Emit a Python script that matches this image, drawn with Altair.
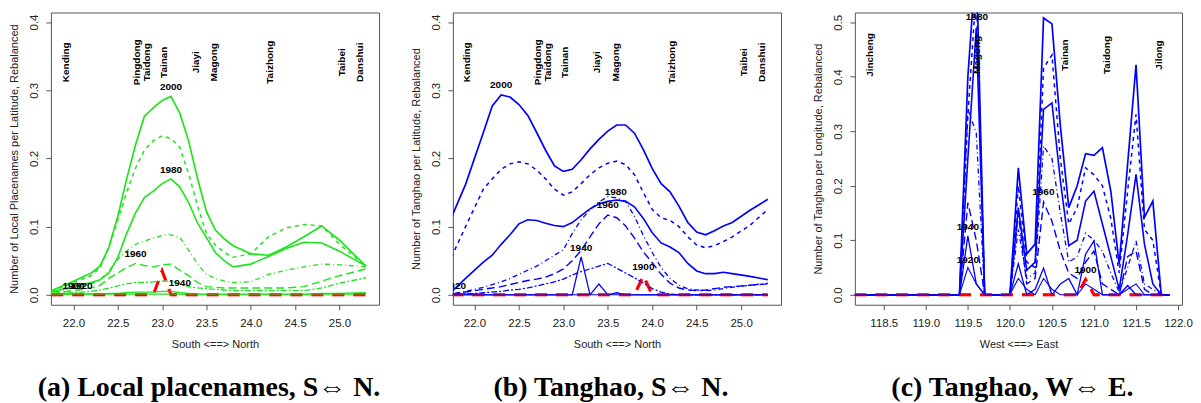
import altair as alt
import pandas as pd

GREEN = "#1ee41e"
BLUE = "#0000ff"
RED = "#ff0000"

# ---------------- Panel (a): local placenames, by latitude ----------------
LAT_A = [21.75, 22.0, 22.2, 22.3, 22.4, 22.5, 22.6, 22.7, 22.8, 22.9, 23.0, 23.1, 23.2,
         23.3, 23.4, 23.5, 23.6, 23.7, 23.8, 24.0, 24.2, 24.4, 24.6, 24.8, 25.0, 25.3]
A_2000 = [0.006, 0.02, 0.032, 0.042, 0.07, 0.115, 0.17, 0.22, 0.262, 0.274, 0.285, 0.291, 0.266,
          0.225, 0.17, 0.122, 0.095, 0.082, 0.072, 0.060, 0.058, 0.070, 0.085, 0.101, 0.080, 0.042]
A_1990 = [0.005, 0.018, 0.028, 0.040, 0.07, 0.11, 0.15, 0.186, 0.212, 0.226, 0.233, 0.229, 0.216,
          0.177, 0.13, 0.09, 0.073, 0.062, 0.055, 0.060, 0.085, 0.098, 0.103, 0.101, 0.074, 0.042]
A_1980 = [0.004, 0.012, 0.018, 0.022, 0.032, 0.055, 0.09, 0.12, 0.1425, 0.152, 0.163, 0.170, 0.158,
          0.135, 0.105, 0.084, 0.062, 0.050, 0.041, 0.045, 0.056, 0.068, 0.077, 0.076, 0.064, 0.042]
A_1970 = [0.003, 0.010, 0.016, 0.022, 0.035, 0.052, 0.064, 0.074, 0.079, 0.083, 0.087, 0.088, 0.084,
          0.065, 0.045, 0.030, 0.024, 0.020, 0.018, 0.019, 0.030, 0.036, 0.041, 0.045, 0.044, 0.041]
A_1960 = [0.002, 0.006, 0.010, 0.014, 0.024, 0.032, 0.040, 0.046, 0.043, 0.041, 0.044, 0.045, 0.036,
          0.028, 0.018, 0.012, 0.011, 0.010, 0.010, 0.010, 0.010, 0.010, 0.012, 0.020, 0.028, 0.038]
A_1950 = [0.001, 0.003, 0.005, 0.007, 0.010, 0.013, 0.016, 0.018, 0.018, 0.019, 0.020, 0.020, 0.016,
          0.012, 0.010, 0.009, 0.008, 0.007, 0.006, 0.006, 0.006, 0.006, 0.006, 0.010, 0.017, 0.025]
A_1940 = [0.000, 0.001, 0.001, 0.001, 0.002, 0.002, 0.003, 0.004, 0.004, 0.004, 0.005, 0.005, 0.003,
          0.002, 0.001, 0.001, 0.001, 0.001, 0.001, 0.001, 0.001, 0.001, 0.001, 0.002, 0.002, 0.003]
A_1920 = [0.001, 0.002, 0.001, 0.001, 0.001, 0.001, 0.001, 0.001, 0.001, 0.001, 0.001, 0.001, 0.001,
          0.000, 0.000, 0.000, 0.000, 0.000, 0.000, 0.000, 0.000, 0.000, 0.000, 0.000, 0.000, 0.000]
A_1900 = [0, 0, 0, 0, 0, 0, 0, 0, 0, 0, 0.035, 0, 0,
          0, 0, 0, 0, 0, 0, 0, 0, 0, 0, 0, 0, 0]

CITY_AB = ["Kending", "Pingdong", "Taidong", "Tainan", "Jiayi", "Magong", "Taizhong", "Taibei", "Danshui"]
CITY_AB_LAT = [21.92, 22.72, 22.83, 23.02, 23.38, 23.59, 24.22, 25.03, 25.235]
CITY_AB_Y = 0.341

YEAR_A = ["2000", "1980", "1960", "1940", "1900", "1920"]
YEAR_A_X = [23.1, 23.1, 22.7, 23.2, 22.0, 22.09]
YEAR_A_Y = [0.3045, 0.183, 0.0596, 0.0166, 0.013, 0.013]

# ---------------- Panel (b): tanghao, by latitude ----------------
LAT_B = [21.74, 21.9, 22.1, 22.2, 22.3, 22.4, 22.5, 22.6, 22.7, 22.8, 22.9, 23.0, 23.1, 23.2, 23.3,
         23.4, 23.5, 23.6, 23.7, 23.8, 23.9, 24.0, 24.1, 24.2, 24.3, 24.4, 24.5, 24.6, 24.7, 24.8,
         24.9, 25.1, 25.3]
B_2000 = [0.113, 0.162, 0.238, 0.277, 0.293, 0.290, 0.279, 0.263, 0.238, 0.212, 0.189, 0.181, 0.184,
          0.198, 0.214, 0.228, 0.240, 0.249, 0.249, 0.237, 0.213, 0.185, 0.163, 0.151, 0.130, 0.106,
          0.092, 0.088, 0.094, 0.101, 0.106, 0.124, 0.140]
B_1990 = [0.055, 0.100, 0.155, 0.170, 0.184, 0.192, 0.195, 0.192, 0.183, 0.170, 0.155, 0.146, 0.151,
          0.163, 0.176, 0.186, 0.193, 0.196, 0.191, 0.176, 0.150, 0.125, 0.113, 0.109, 0.100, 0.085,
          0.073, 0.069, 0.072, 0.078, 0.085, 0.102, 0.125]
B_1980 = [0.004, 0.024, 0.048, 0.058, 0.074, 0.088, 0.104, 0.110, 0.109, 0.105, 0.1015, 0.100, 0.106,
          0.116, 0.126, 0.133, 0.137, 0.139, 0.137, 0.129, 0.112, 0.091, 0.076, 0.070, 0.062, 0.046,
          0.035, 0.031, 0.031, 0.033, 0.031, 0.027, 0.022]
B_1970 = [0.001, 0.005, 0.011, 0.015, 0.019, 0.024, 0.030, 0.036, 0.042, 0.050, 0.058, 0.066, 0.090,
          0.110, 0.125, 0.136, 0.144, 0.142, 0.137, 0.115, 0.087, 0.062, 0.040, 0.024, 0.014, 0.009,
          0.007, 0.006, 0.007, 0.009, 0.011, 0.014, 0.017]
B_1960 = [0.001, 0.004, 0.008, 0.010, 0.012, 0.015, 0.018, 0.021, 0.023, 0.026, 0.031, 0.038, 0.050,
          0.065, 0.085, 0.104, 0.117, 0.113, 0.101, 0.083, 0.063, 0.047, 0.030, 0.017, 0.010, 0.007,
          0.006, 0.007, 0.009, 0.011, 0.012, 0.014, 0.016]
B_1950 = [0.000, 0.001, 0.003, 0.004, 0.005, 0.007, 0.008, 0.010, 0.013, 0.016, 0.019, 0.023, 0.029,
          0.034, 0.038, 0.042, 0.046, 0.039, 0.032, 0.025, 0.017, 0.009, 0.004, 0.001, 0.000, 0.000,
          0.000, 0.000, 0.000, 0.000, 0.000, 0.000, 0.000]
B_1940 = [0, 0, 0, 0, 0, 0, 0, 0, 0, 0, 0, 0, 0, 0.0556, 0, 0.0157, 0, 0.003, 0, 0, 0, 0, 0, 0, 0,
          0, 0, 0, 0, 0, 0, 0, 0]
B_1920 = [0.002, 0.001, 0, 0, 0, 0, 0, 0, 0, 0, 0, 0, 0, 0, 0, 0, 0, 0, 0, 0, 0, 0, 0, 0, 0,
          0, 0, 0, 0, 0, 0, 0, 0]
B_1900 = [0, 0, 0, 0, 0, 0, 0, 0, 0, 0, 0, 0, 0, 0, 0, 0, 0, 0, 0, 0, 0.028, 0, 0, 0, 0,
          0, 0, 0, 0, 0, 0, 0, 0]

YEAR_B = ["2000", "1980", "1960", "1940", "1900", "1920"]
YEAR_B_X = [22.3, 23.59, 23.5, 23.2, 23.9, 21.78]
YEAR_B_Y = [0.307, 0.151, 0.131, 0.069, 0.041, 0.0127]

# ---------------- Panel (c): tanghao, by longitude ----------------
LON_C = [118.15, 119.4, 119.5, 119.6, 119.7, 120.0, 120.1, 120.2, 120.3, 120.4, 120.5, 120.6, 120.7,
         120.8, 120.9, 121.0, 121.1, 121.2, 121.3, 121.4, 121.5, 121.6, 121.7, 121.8, 121.9]
C_2000 = [0, 0, 0.40, 0.62, 0, 0, 0.233, 0.075, 0.093, 0.508, 0.497, 0.31, 0.16,
          0.20, 0.259, 0.256, 0.27, 0.19, 0.056, 0.24, 0.422, 0.142, 0.172, 0, 0]
C_1990 = [0, 0, 0.33, 0.56, 0, 0, 0.20, 0.06, 0.05, 0.416, 0.44, 0.25, 0.13,
          0.16, 0.233, 0.22, 0.20, 0.14, 0.04, 0.19, 0.331, 0.12, 0.10, 0, 0]
C_1980 = [0, 0, 0.25, 0.49, 0, 0, 0.16, 0.045, 0.06, 0.34, 0.352, 0.21, 0.09,
          0.10, 0.172, 0.19, 0.13, 0.07, 0.01, 0.11, 0.221, 0.093, 0.02, 0, 0]
C_1970 = [0, 0, 0.34, 0.297, 0, 0, 0.12, 0.03, 0.04, 0.273, 0.25, 0.15, 0.06,
          0.07, 0.113, 0.10, 0.08, 0.04, 0.005, 0.05, 0.099, 0.02, 0.01, 0, 0]
C_1960 = [0, 0, 0.169, 0.10, 0, 0, 0.15, 0.02, 0.03, 0.17, 0.135, 0.08, 0.04,
          0.03, 0.06, 0.08, 0.02, 0.01, 0, 0.07, 0.08, 0.01, 0, 0, 0]
C_1940 = [0, 0, 0.108, 0.02, 0, 0, 0.057, 0.0, 0.01, 0.049, 0.0, 0.02, 0.03,
          0.0, 0.0745, 0.099, 0.0, 0.0, 0.0, 0.017, 0.0, 0.0, 0, 0, 0]
C_1920 = [0, 0, 0.05, 0.02, 0, 0, 0.03, 0.01, 0.0, 0.03, 0.01, 0.0, 0.0,
          0.0, 0.02, 0.01, 0, 0, 0, 0.01, 0.02, 0, 0, 0, 0]
C_1900 = [0, 0, 0, 0, 0, 0, 0, 0, 0, 0, 0, 0, 0,
          0, 0.028, 0, 0, 0, 0, 0, 0, 0, 0, 0, 0]

CITY_C = ["Jincheng", "Magong", "Tainan", "Taidong", "Jilong"]
CITY_C_LON = [118.34, 119.61, 120.65, 121.15, 121.77]
CITY_C_Y = 0.44

YEAR_C = ["1980", "1960", "1940", "1920", "1900"]
YEAR_C_X = [119.608, 120.398, 119.5, 119.5, 120.9]
YEAR_C_Y = [0.51, 0.189, 0.1245, 0.0635, 0.045]

STYLE = {
    "1900": dict(strokeWidth=3, strokeDash=[12, 9], color=RED),
    "1900top": dict(strokeWidth=3, strokeDash=[12, 9], color=RED, opacity=0.45),
    "2000": dict(strokeWidth=1.7),
    "1990": dict(strokeWidth=1.5, strokeDash=[4, 4]),
    "1980": dict(strokeWidth=1.6),
    "1970": dict(strokeWidth=1.3, strokeDash=[1, 3, 5, 3]),
    "1960": dict(strokeWidth=1.4, strokeDash=[8, 4]),
    "1950": dict(strokeWidth=1.3, strokeDash=[2, 2, 6, 2]),
    "1940": dict(strokeWidth=1.3),
    "1920": dict(strokeWidth=1.1),
}

SANS = "Liberation Sans"


def make_panel(grid, series, color, xdom, ydom, xticks, yticks, xtitle, ytitle,
               cities, city_x, city_y, years, year_x, year_y, title, width):
    xs = alt.Scale(domain=xdom, nice=False, zero=False)
    ys = alt.Scale(domain=ydom, nice=False, zero=False)
    xenc = alt.X("x:Q", scale=xs,
                 axis=alt.Axis(values=xticks, format=".1f", title=xtitle,
                               labelPadding=8, titlePadding=9))
    yenc = alt.Y("y:Q", scale=ys,
                 axis=alt.Axis(values=yticks, format=".1f", title=ytitle, labelAngle=270,
                               labelAlign="center", labelBaseline="alphabetic",
                               labelPadding=8, titlePadding=9))
    layers = []
    for name, vals in series:
        st = dict(STYLE[name])
        col = st.pop("color", color)
        df = pd.DataFrame({"x": grid, "y": vals})
        layers.append(alt.Chart(df).mark_line(color=col, clip=True, **st).encode(x=xenc, y=yenc))
    cdf = pd.DataFrame({"x": city_x, "y": [city_y] * len(city_x), "t": cities})
    layers.append(alt.Chart(cdf).mark_text(angle=270, font=SANS, fontSize=10, fontWeight="bold",
                                           color="black", align="center", baseline="middle",
                                           clip=True)
                  .encode(x=xenc, y=yenc, text="t:N"))
    ydf = pd.DataFrame({"x": year_x, "y": year_y, "t": years})
    layers.append(alt.Chart(ydf).mark_text(font=SANS, fontSize=10, fontWeight="bold",
                                           color="black", align="center", baseline="middle",
                                           clip=True)
                  .encode(x=xenc, y=yenc, text="t:N"))
    return alt.layer(*layers).properties(
        width=width, height=293,
        title=alt.TitleParams(text=title, orient="bottom", anchor="middle",
                              font="Liberation Serif", fontSize=28, fontWeight="bold",
                              color="black", offset=25, dx=-6))


pa = make_panel(LAT_A,
                [("1900", A_1900), ("2000", A_2000), ("1990", A_1990), ("1980", A_1980),
                 ("1970", A_1970), ("1960", A_1960), ("1950", A_1950), ("1940", A_1940),
                 ("1920", A_1920), ("1900top", A_1900)],
                GREEN, [21.745, 25.447], [-0.0146, 0.414],
                [22.0, 22.5, 23.0, 23.5, 24.0, 24.5, 25.0], [0.0, 0.1, 0.2, 0.3, 0.4],
                "South <==> North", "Number of Local Placenames per Latitude, Rebalanced",
                CITY_AB, CITY_AB_LAT, CITY_AB_Y, YEAR_A, YEAR_A_X, YEAR_A_Y,
                "(a) Local placenames, S\u21d4 N.", 329)

pb = make_panel(LAT_B,
                [("1900", B_1900), ("2000", B_2000), ("1990", B_1990), ("1980", B_1980),
                 ("1970", B_1970), ("1960", B_1960), ("1950", B_1950), ("1940", B_1940),
                 ("1920", B_1920), ("1900top", B_1900)],
                BLUE, [21.757, 25.449], [-0.0146, 0.414],
                [22.0, 22.5, 23.0, 23.5, 24.0, 24.5, 25.0], [0.0, 0.1, 0.2, 0.3, 0.4],
                "South <==> North", "Number of Tanghao per Latitude, Rebalanced",
                CITY_AB, CITY_AB_LAT, CITY_AB_Y, YEAR_B, YEAR_B_X, YEAR_B_Y,
                "(b) Tanghao, S\u21d4 N.", 329)

pc = make_panel(LON_C,
                [("1900", C_1900), ("2000", C_2000), ("1990", C_1990), ("1980", C_1980),
                 ("1970", C_1970), ("1960", C_1960), ("1940", C_1940), ("1920", C_1920),
                 ("1900top", C_1900)],
                BLUE, [118.156, 122.047], [-0.0183, 0.518],
                [118.5, 119.0, 119.5, 120.0, 120.5, 121.0, 121.5, 122.0],
                [0.0, 0.1, 0.2, 0.3, 0.4, 0.5],
                "West <==> East", "Number of Tanghao per Longitude, Rebalanced",
                CITY_C, CITY_C_LON, CITY_C_Y, YEAR_C, YEAR_C_X, YEAR_C_Y,
                "(c) Tanghao, W\u21d4 E.", 328)

chart = (alt.hconcat(pa, pb, pc, spacing=74, bounds="flush")
         .properties(padding={"left": 0, "top": 3, "right": 0, "bottom": 0})
         .configure_view(stroke="#555555", strokeWidth=1)
         .configure_axis(domain=False, grid=False, tickColor="#555555", tickSize=5,
                         labelFont=SANS, labelFontSize=11.5, labelColor="#222222",
                         titleFont=SANS, titleFontSize=11, titleFontWeight="normal",
                         titleColor="#222222"))

chart.save("out.html", embed_options={"renderer": "svg", "actions": False})
